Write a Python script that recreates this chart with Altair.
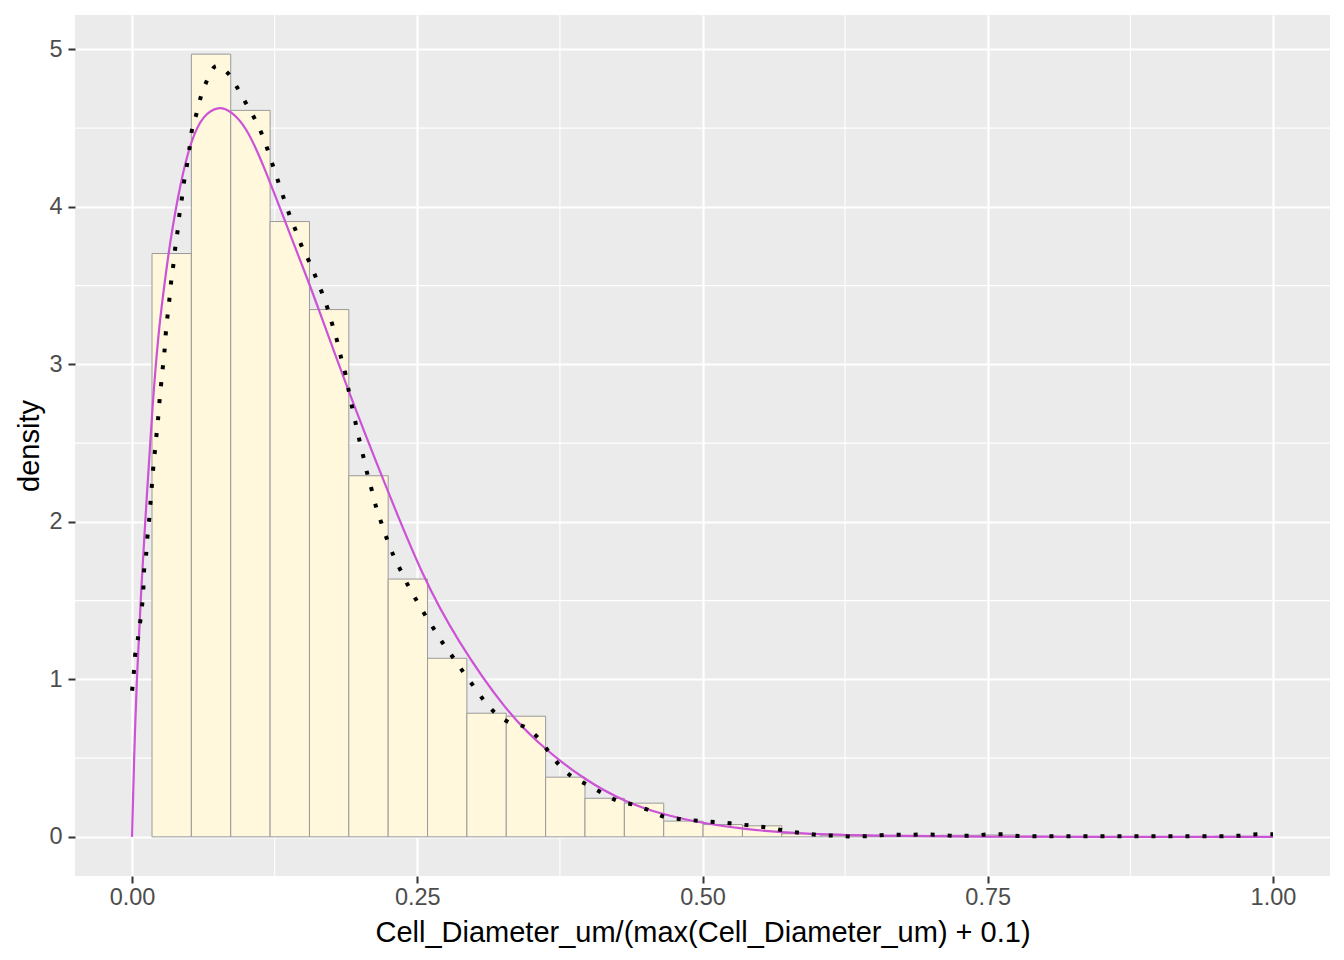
import altair as alt
import pandas as pd

# ---- data ----
bin_edges = [0.0175, 0.0520, 0.0865, 0.1210, 0.1555, 0.1900, 0.2245, 0.2590,
             0.2935, 0.3280, 0.3625, 0.3970, 0.4315, 0.4660, 0.5005, 0.5350,
             0.5695, 0.6040, 0.6385, 0.6730, 0.7075, 0.7420, 0.7765, 0.8110,
             0.8455, 0.8800, 0.9145, 0.9490, 0.9835]
bar_heights = [3.704, 4.970, 4.613, 3.907, 3.348, 2.293, 1.637, 1.134,
               0.785, 0.766, 0.379, 0.245, 0.214, 0.100, 0.078, 0.070,
               0.020, 0.010, 0.004, 0.008, 0.010, 0.012, 0.004, 0.0,
               0.0, 0.0, 0.0, 0.004]

kde_x = [0.0, 0.0015, 0.0026, 0.005, 0.007, 0.0088, 0.0099, 0.0105, 0.0123,
         0.0134, 0.0149, 0.0161, 0.0173, 0.0184, 0.0199, 0.0213, 0.0228, 0.024,
         0.0254, 0.0269, 0.0284, 0.0295, 0.031, 0.0327, 0.0342, 0.036, 0.0377,
         0.0398, 0.0415, 0.0436, 0.0456, 0.048, 0.0503, 0.0523, 0.0564, 0.0599,
         0.0649, 0.0740, 0.0845, 0.0924, 0.0997, 0.107, 0.1135, 0.1187, 0.1234,
         0.128, 0.1327, 0.1377, 0.1433, 0.1485, 0.155, 0.1608, 0.1664, 0.1713,
         0.1757, 0.1798, 0.1833, 0.1871, 0.190, 0.193, 0.1962, 0.1994, 0.2029,
         0.2064, 0.2103, 0.214, 0.2187, 0.2237, 0.2292, 0.2357, 0.2424, 0.2497,
         0.2573, 0.2652, 0.2731, 0.2819, 0.2904, 0.2994, 0.3082, 0.3182, 0.3301,
         0.3445, 0.3559, 0.3652, 0.3743, 0.3854, 0.3982, 0.4114, 0.4252, 0.4398,
         0.4538, 0.4675, 0.4822, 0.4982, 0.5143, 0.5289, 0.5445, 0.5588, 0.5737,
         0.588, 0.6035, 0.618, 0.633, 0.648, 0.663, 0.678, 0.693, 0.708, 0.723,
         0.738, 0.75, 0.763, 0.777, 0.80, 0.85, 0.90, 0.95, 0.9725, 0.987, 1.0]
kde_y = [0.928, 1.036, 1.144, 1.25, 1.358, 1.468, 1.574, 1.683, 1.789,
         1.897, 2.005, 2.113, 2.223, 2.329, 2.438, 2.544, 2.652, 2.76,
         2.868, 2.976, 3.08, 3.19, 3.30, 3.41, 3.52, 3.62, 3.73,
         3.84, 3.95, 4.05, 4.16, 4.26, 4.37, 4.48, 4.59, 4.69,
         4.79, 4.895, 4.845, 4.755, 4.66, 4.567, 4.467, 4.366, 4.264,
         4.163, 4.061, 3.955, 3.853, 3.754, 3.657, 3.558, 3.456, 3.357,
         3.249, 3.147, 3.04, 2.936, 2.83, 2.724, 2.619, 2.515, 2.409,
         2.30, 2.197, 2.092, 1.99, 1.885, 1.785, 1.688, 1.59, 1.497,
         1.404, 1.313, 1.222, 1.134, 1.045, 0.956, 0.869, 0.787, 0.728,
         0.696, 0.628, 0.541, 0.457, 0.383, 0.334, 0.281, 0.23, 0.203,
         0.167, 0.125, 0.112, 0.101, 0.093, 0.082, 0.070, 0.057, 0.038,
         0.023, 0.011, 0.008, 0.002, 0.006, 0.013, 0.013, 0.015, 0.013, 0.006,
         0.008, 0.016, 0.017, 0.006, 0.004, 0.004, 0.004, 0.004, 0.008, 0.017, 0.017]

fit_x = [0.0, 0.0018, 0.0041, 0.0076, 0.0129, 0.0178, 0.0231, 0.0275, 0.0333,
         0.0420, 0.0518, 0.0626, 0.0757, 0.0866, 0.1000, 0.1150, 0.1342, 0.1553,
         0.1626, 0.1898, 0.2199, 0.2556, 0.2848, 0.3278, 0.3623, 0.3968, 0.4313,
         0.4658, 0.5003, 0.535, 0.586, 0.65, 0.75, 0.85, 1.0]
fit_y = [0.0, 0.51, 1.0, 1.525, 2.16, 2.73, 3.20, 3.46, 3.78,
         4.14, 4.43, 4.585, 4.64, 4.61, 4.51, 4.27, 3.907, 3.513,
         3.37, 2.826, 2.27, 1.635, 1.25, 0.795, 0.552, 0.362, 0.224,
         0.14, 0.087, 0.049, 0.019, 0.006, 0.001, 0.0, 0.0]

x_ticks = [0.0, 0.25, 0.5, 0.75, 1.0]
y_ticks = [0, 1, 2, 3, 4, 5]
x_minor = [0.125, 0.375, 0.625, 0.875]
y_minor = [0.5, 1.5, 2.5, 3.5, 4.5]

x_title = "Cell_Diameter_um/(max(Cell_Diameter_um) + 0.1)"
y_title = "density"

# ---- tables ----
bars_df = pd.DataFrame({"x": bin_edges[:-1], "x2": bin_edges[1:],
                        "y": bar_heights, "y2": [0.0] * len(bar_heights)})
kde_df = pd.DataFrame({"x": kde_x, "y": kde_y})
fit_df = pd.DataFrame({"x": fit_x, "y": fit_y})
xminor_df = pd.DataFrame({"x": x_minor})
yminor_df = pd.DataFrame({"y": y_minor})

FONT = "Liberation Sans"
xscale = alt.Scale(domain=[-0.05, 1.05], nice=False, zero=False)
yscale = alt.Scale(domain=[-0.2485, 5.2185], nice=False, zero=False)

common_axis = dict(grid=True, gridColor="white", gridWidth=2.2, domain=False,
                   tickColor="#333333", tickWidth=2, tickSize=7,
                   labelFont=FONT, labelFontSize=23.5, labelColor="#4D4D4D",
                   titleFont=FONT, titleFontSize=29, titleColor="black",
                   titleFontWeight="normal")
xaxis = alt.Axis(values=x_ticks, format=".2f", labelPadding=2, titlePadding=10,
                 **common_axis)
yaxis = alt.Axis(values=y_ticks, format="d", labelPadding=6, titlePadding=4,
                 **common_axis)


def X(field="x"):
    return alt.X(f"{field}:Q", scale=xscale, axis=xaxis, title=x_title)


def Y(field="y"):
    return alt.Y(f"{field}:Q", scale=yscale, axis=yaxis, title=y_title)


minor_v = alt.Chart(xminor_df).mark_rule(color="white", strokeWidth=1.1).encode(x=X())
minor_h = alt.Chart(yminor_df).mark_rule(color="white", strokeWidth=1.1).encode(y=Y())

bars = alt.Chart(bars_df).mark_rect(fill="#FFF8DC", stroke="#9A9A9A", strokeWidth=1).encode(
    x=X(), x2="x2:Q", y=Y(), y2="y2:Q"
)

fit = alt.Chart(fit_df).mark_line(color="#CC52D6", strokeWidth=2.2, interpolate="basis").encode(
    x=X(), y=Y()
)

kde = alt.Chart(kde_df).mark_line(color="black", strokeWidth=4, strokeDash=[4, 13],
                                   strokeCap="butt", interpolate="monotone").encode(
    x=X(), y=Y()
)

chart = alt.layer(minor_v, minor_h, bars, fit, kde).properties(
    width=1255, height=861,
    autosize=alt.AutoSizeParams(type="none"),
    padding={"left": 67, "top": 7, "right": 6, "bottom": 76},
    background="white",
).configure_view(fill="#EBEBEB", strokeWidth=0)

chart.save("out.html", embed_options={"renderer": "svg", "actions": False})
